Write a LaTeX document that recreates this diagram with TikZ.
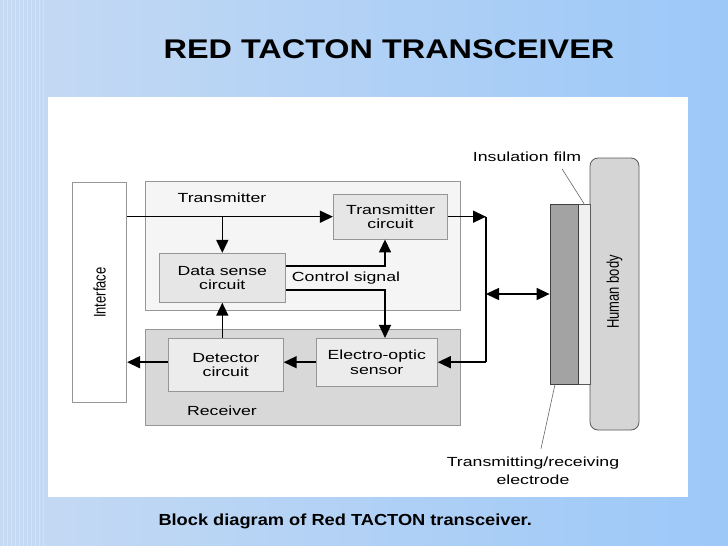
\documentclass[tikz,border=0pt]{standalone}
\usepackage{fontspec}
\setmainfont{Liberation Sans}
\newfontfamily\blokfont[FakeStretch=1.34]{Liberation Sans}
\newfontfamily\nadpisfont[FakeStretch=1.2]{Liberation Sans}
\newfontfamily\popisekfont[FakeStretch=1.14]{Liberation Sans}
\usetikzlibrary{arrows.meta}

\definecolor{pozadi}{RGB}{186,215,248}
\definecolor{pozadil}{RGB}{198,218,243}
\definecolor{pozadip}{RGB}{156,200,248}
\definecolor{ramecek}{RGB}{150,150,150}
\definecolor{vysilac}{RGB}{245,245,245}
\definecolor{prijimac}{RGB}{216,216,216}
\definecolor{blokvys}{RGB}{230,230,230}
\definecolor{blokpri}{RGB}{236,236,236}
\definecolor{elektroda}{RGB}{163,163,163}
\definecolor{folie}{RGB}{240,240,240}
\definecolor{telo}{RGB}{213,213,213}

\tikzset{
  blok/.style={draw=ramecek, line width=0.8pt, inner sep=0pt, align=center,
    font=\blokfont\fontsize{13.2}{14.5}\selectfont},
  popis/.style={font=\blokfont\fontsize{13.2}{14.5}\selectfont, inner sep=0pt},
  svisle/.style={rotate=90, yscale=1.3, inner sep=0pt, font=\fontsize{13}{14}\selectfont},
  sipka/.style={line width=1.5pt, -{Triangle[length=13pt,width=12pt]}},
  sipky/.style={line width=1.5pt, {Triangle[length=13pt,width=12pt]}-{Triangle[length=13pt,width=12pt]}},
  vodic/.style={line width=0.6pt, draw=black!60},
}

\begin{document}
\begin{tikzpicture}[x=1pt, y=-1pt]
  % pozadí snímku
  \useasboundingbox (0,0) rectangle (728,546);
  \shade[left color=pozadil, middle color=pozadi, right color=pozadip] (0,0) rectangle (728,546);
  \foreach \x in {3,7,...,43}
    \draw[white, opacity=0.25, line width=1pt] (\x,0) -- (\x,546);
  \fill[white] (47.5,97) rectangle (688,497.3);
  % nadpis a popisek
  \node[anchor=base, inner sep=0pt, font=\nadpisfont\bfseries\fontsize{27}{30}\selectfont] (nadpis) at (389,58.3) {RED TACTON TRANSCEIVER};
  \node[anchor=base west, inner sep=0pt, font=\popisekfont\bfseries\fontsize{16}{18}\selectfont] (popisek) at (158.3,525) {Block diagram of Red TACTON transceiver.};
  % rozhraní
  \node[blok, fill=white, minimum width=54pt, minimum height=220pt] (rozhrani) at (99.7,292.7) {};
  \node[svisle] (rozhranitext) at (rozhrani) {Interface};
  % vysílač a přijímač
  \node[blok, fill=vysilac, minimum width=315pt, minimum height=129pt] (vys) at (302.5,246.2) {};
  \node[blok, fill=prijimac, minimum width=315pt, minimum height=96pt] (pri) at (302.5,377) {};
  \node[popis, anchor=base] (vystext) at (222,202.3) {Transmitter};
  \node[popis, anchor=base] (pritext) at (222,415) {Receiver};
  \node[blok, fill=blokvys, minimum width=114.4pt, minimum height=44.7pt] (vysobvod) at (390.5,216.7) {Transmitter\\circuit};
  \node[blok, fill=blokvys, minimum width=126.7pt, minimum height=49pt] (data) at (222.3,277.8) {Data sense\\circuit};
  \node[blok, fill=blokpri, minimum width=115pt, minimum height=53.4pt] (detektor) at (225.8,365) {Detector\\circuit};
  \node[blok, fill=blokpri, minimum width=121.3pt, minimum height=47.7pt] (senzor) at (376.7,362.2) {Electro-optic\\sensor};
  \node[popis, anchor=base] (rizeni) at (346,281) {Control signal};
  % elektroda, izolační fólie a tělo
  \node[draw=black!65, line width=0.8pt, fill=telo, rounded corners=8pt, inner sep=0pt, minimum width=49pt, minimum height=272pt] (telo) at (614.5,294) {};
  \node[svisle] (telotext) at (614.5,292) {Human body};
  \node[draw=black!65, line width=0.8pt, fill=folie, inner sep=0pt, minimum width=12pt, minimum height=180pt] (folie) at (584,294) {};
  \node[draw=black!75, line width=0.8pt, fill=elektroda, inner sep=0pt, minimum width=28pt, minimum height=180pt] (elektroda) at (564,294) {};
  \node[popis, anchor=base] (folietext) at (527,161.5) {Insulation film};
  \node[popis, align=center, font=\blokfont\fontsize{13.2}{18.5}\selectfont] (elektrodatext) at (533,471) {Transmitting/receiving\\electrode};
  \draw[vodic] ([xshift=35pt,yshift=-7pt]folietext.south) -- (folie.north);
  \draw[vodic] ([xshift=-9pt]elektroda.south) -- ([xshift=8pt,yshift=8pt]elektrodatext.north);
  % signálové cesty
  \draw[sipka] (rozhrani.east |- vysobvod.west) -- (vysobvod.west);
  \draw[sipka] (data.north |- vysobvod.west) -- (data.north);
  \coordinate (uzel) at (385,277.8);
  \draw[sipka] ([yshift=12pt]data.east) -| (uzel |- vysobvod.south);
  \draw[sipka] ([yshift=-12pt]data.east) -| (uzel |- senzor.north);
  \draw[sipka] (data.south |- detektor.north) -- (data.south);
  \draw[sipka] (senzor.west) -- (detektor.east |- senzor.west);
  \draw[sipka] (detektor.west |- senzor.west) -- (rozhrani.east |- senzor.west);
  % sběrnice k elektrodě
  \coordinate (sbernice) at (486,294);
  \draw[sipka] (vysobvod.east) -- (sbernice |- vysobvod.east);
  \draw[line width=1.5pt] (sbernice |- vysobvod.east) -- (sbernice |- senzor.east);
  \draw[sipka] (sbernice |- senzor.east) -- (senzor.east);
  \draw[sipky] (sbernice) -- (elektroda.west);
\end{tikzpicture}
\end{document}
